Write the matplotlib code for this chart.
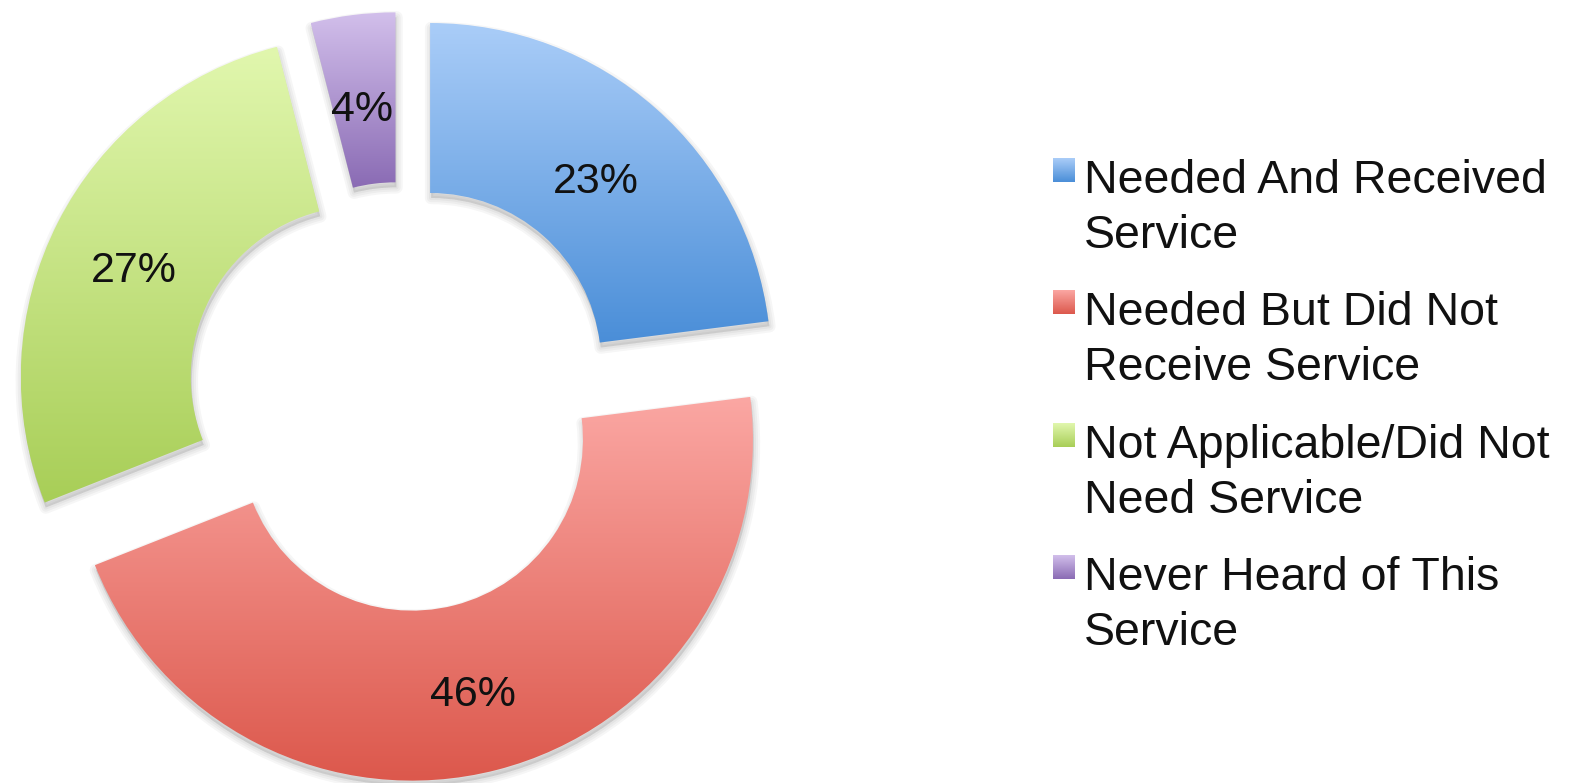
import matplotlib
matplotlib.use('Agg')
import matplotlib.pyplot as plt
import matplotlib.patches as mpatches
from matplotlib.colors import LinearSegmentedColormap
import numpy as np

plt.rcParams['font.family'] = ['Liberation Sans', 'DejaVu Sans']

# Survey answers (share of respondents, %)
categories = [
    'Needed And Received\nService',
    'Needed But Did Not\nReceive Service',
    'Not Applicable/Did Not\nNeed Service',
    'Never Heard of This\nService',
]
shares = [23, 46, 27, 4]

# light (top) -> dark (bottom) fill for each slice
top_colors = ['#aacdf8', '#fba7a3', '#e1f7ae', '#d2bfeb']
bottom_colors = ['#4a8ed8', '#dc584c', '#a8ce57', '#8a6bb4']

W, H = 1572, 783
fig = plt.figure(figsize=(W / 100, H / 100), dpi=100)
ax = fig.add_axes([0, 0, 1, 1])

center = (401, H - 397)
radius = 341
ring = 170

wedges, _, pct_texts = ax.pie(
    shares, startangle=90, counterclock=False, center=center,
    radius=radius, explode=[44] * len(shares),
    wedgeprops=dict(width=ring, linewidth=0),
    autopct='%1.0f%%', pctdistance=0.745,
    textprops=dict(fontsize=31, color='#111111'))


def gradient_fill(ax, patch, c_top, c_bot, extent=None):
    cmap = LinearSegmentedColormap.from_list('g', [c_bot, c_top])
    if extent is None:
        bb = patch.get_path().get_extents(patch.get_patch_transform())
        extent = (bb.x0, bb.x1, bb.y0, bb.y1)
    grad = np.linspace(0, 1, 256).reshape(-1, 1)
    im = ax.imshow(grad, cmap=cmap, extent=extent, origin='lower',
                   aspect='auto', interpolation='bilinear', zorder=2)
    im.set_clip_path(patch)
    return im


for w, ct, cb in zip(wedges, top_colors, bottom_colors):
    # soft drop shadow under the slice
    cx, cy = w.center
    for lw in [9, 6, 3]:
        sh = mpatches.Wedge((cx + 1, cy - 5), w.r, w.theta1, w.theta2,
                            width=w.width, facecolor=(0, 0, 0, 0.035),
                            edgecolor=(0, 0, 0, 0.035), linewidth=lw,
                            joinstyle='round', zorder=1)
        ax.add_patch(sh)
    w.set_facecolor('none')
    w.set_zorder(2)
    gradient_fill(ax, w, ct, cb)

for t in pct_texts:
    x, y = t.get_position()
    t.set_position((x - 2, y - 9))
    t.set_zorder(5)

# legend on the right
item_step = 132.3
for i, (label, ct, cb) in enumerate(zip(categories, top_colors, bottom_colors)):
    top = 158 + i * item_step
    sq = mpatches.Rectangle((1053, H - top - 24), 22, 24, facecolor='none',
                            edgecolor='none', zorder=2)
    ax.add_patch(sq)
    gradient_fill(ax, sq, ct, cb, extent=(1053, 1075, H - top - 24, H - top))
    for j, line in enumerate(label.split('\n')):
        ax.text(1084, H - (193 + i * item_step + j * 55), line,
                fontsize=33.5, color='#111111', va='baseline', ha='left')

ax.set_xlim(0, W)
ax.set_ylim(0, H)
ax.set_axis_off()

fig.savefig('out.png', dpi=100, facecolor='white')
